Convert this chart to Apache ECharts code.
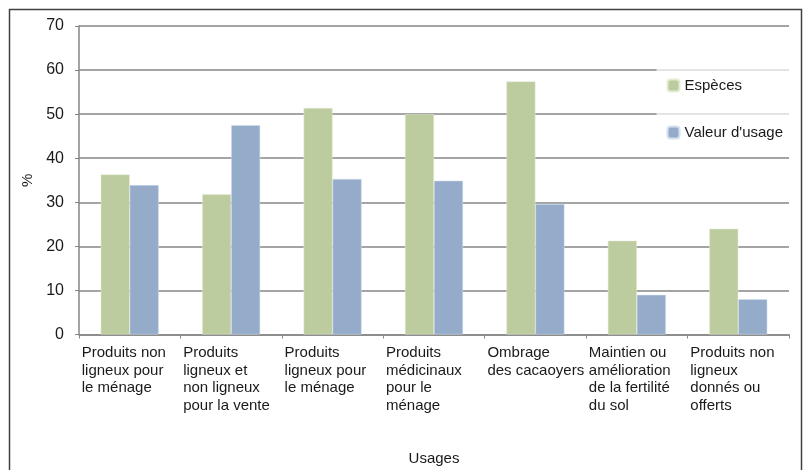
<!DOCTYPE html>
<html>
<head>
<meta charset="utf-8">
<script src="https://cdn.jsdelivr.net/npm/echarts@6/dist/echarts.min.js"></script>
<style>
  html, body { margin: 0; padding: 0; background: #fff; }
  #chart { width: 805px; height: 470px; }
</style>
</head>
<body>
<div id="chart"></div>
<script>
// catégories d'usage (axe x)
const categories = [
  'Produits non\nligneux pour\nle ménage',
  'Produits\nligneux et\nnon ligneux\npour la vente',
  'Produits\nligneux pour\nle ménage',
  'Produits\nmédicinaux\npour le\nménage',
  'Ombrage\ndes cacaoyers',
  'Maintien ou\namélioration\nde la fertilité\ndu sol',
  'Produits non\nligneux\ndonnés ou\nofferts'
]
const especes = [36.3, 31.8, 51.4, 50.0, 57.4, 21.3, 24.0]
const valeurUsage = [33.9, 47.5, 35.3, 34.9, 29.6, 9.0, 8.0]
const yTicks = [0, 10, 20, 30, 40, 50, 60, 70]

const font = '"Liberation Sans", Arial, sans-serif'
const chart = echarts.init(document.getElementById('chart'))

const option = {
  animation: false,
  textStyle: { fontFamily: font },
  graphic: [{
    type: 'rect',
    shape: { x: 9.5, y: 9.5, width: 792, height: 470 },
    style: { fill: 'none', stroke: '#404040', lineWidth: 1.5 },
    silent: true,
    z: -1
  }],
  grid: { left: 79, right: 16, top: 26, bottom: 135.5, outerBoundsMode: 'none' },
  legend: {
    orient: 'vertical',
    right: 14,
    top: 66,
    itemWidth: 12,
    itemHeight: 12,
    itemGap: 32,
    padding: [12, 8, 12, 10],
    backgroundColor: 'rgba(255,255,255,0.7)',
    textStyle: { fontFamily: font, fontSize: 15, color: '#1a1a1a' },
    data: ['Espèces', "Valeur d'usage"]
  },
  xAxis: {
    type: 'category',
    data: categories,
    name: 'Usages',
    nameLocation: 'middle',
    nameGap: 117,
    nameTextStyle: { fontFamily: font, fontSize: 15, color: '#1a1a1a' },
    axisLine: { lineStyle: { color: '#868686', width: 1.5 } },
    axisTick: { show: true, length: 4, lineStyle: { color: '#868686' } },
    axisLabel: {
      margin: 10,
      interval: 0,
      color: '#1a1a1a',
      formatter: v => v.split('\n').map(l => '{a|' + l + '}').join('\n'),
      rich: { a: { width: 96, align: 'left', fontFamily: font, fontSize: 15, lineHeight: 17.5, color: '#1a1a1a' } }
    }
  },
  yAxis: {
    type: 'value',
    min: yTicks[0],
    max: yTicks[yTicks.length - 1],
    interval: 10,
    name: '%',
    nameLocation: 'middle',
    nameGap: 40,
    nameRotate: 90,
    nameTextStyle: { fontFamily: font, fontSize: 15, color: '#1a1a1a' },
    axisLine: { show: true, lineStyle: { color: '#868686', width: 1.5 } },
    axisTick: { show: true, length: 4, lineStyle: { color: '#868686' } },
    axisLabel: { margin: 15, fontFamily: font, fontSize: 16, color: '#1a1a1a' },
    splitLine: { lineStyle: { color: '#868686', width: 1.5 } }
  },
  series: [
    {
      name: 'Espèces',
      type: 'bar',
      data: especes,
      barWidth: 29,
      barGap: '0%',
      itemStyle: { color: '#bdcc9f', borderColor: '#e4ecd6', borderWidth: 0.5 }
    },
    {
      name: "Valeur d'usage",
      type: 'bar',
      data: valeurUsage,
      barWidth: 29,
      barGap: '0%',
      itemStyle: { color: '#94abca', borderColor: '#d6e0ee', borderWidth: 0.5 }
    }
  ]
}
chart.setOption(option)
</script>
</body>
</html>
